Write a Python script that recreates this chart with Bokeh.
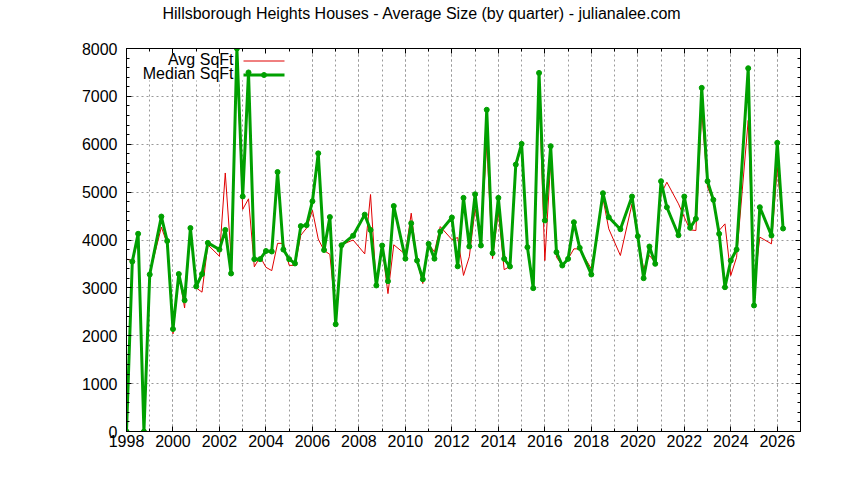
from bokeh.plotting import figure
from bokeh.models import (Range1d, SingleIntervalTicker, LinearAxis, BoxAnnotation,
                          Label, ColumnDataSource, Grid)
from bokeh.embed import file_html
from bokeh.resources import INLINE

# ---------------- data ----------------
quarters = [1998.00, 1998.25, 1998.50, 1998.75, 1999.00, 1999.50, 1999.75,
            2000.00, 2000.25, 2000.50, 2000.75, 2001.00, 2001.25, 2001.50,
            2002.00, 2002.25, 2002.50, 2002.75, 2003.00, 2003.25, 2003.50,
            2003.75, 2004.00, 2004.25, 2004.50, 2004.75, 2005.00, 2005.25,
            2005.50, 2005.75, 2006.00, 2006.25, 2006.50, 2006.75, 2007.00,
            2007.25, 2007.75, 2008.25, 2008.50, 2008.75, 2009.00, 2009.25,
            2009.50, 2010.00, 2010.25, 2010.50, 2010.75, 2011.00, 2011.25,
            2011.50, 2012.00, 2012.25, 2012.50, 2012.75, 2013.00, 2013.25,
            2013.50, 2013.75, 2014.00, 2014.25, 2014.50, 2014.75, 2015.00,
            2015.25, 2015.50, 2015.75, 2016.00, 2016.25, 2016.50, 2016.75,
            2017.00, 2017.25, 2017.50, 2018.00, 2018.50, 2018.75, 2019.25,
            2019.75, 2020.00, 2020.25, 2020.50, 2020.75, 2021.00, 2021.25,
            2021.75, 2022.00, 2022.25, 2022.50, 2022.75, 2023.00, 2023.25,
            2023.50, 2023.75, 2024.00, 2024.25, 2024.75, 2025.00, 2025.25,
            2025.75, 2026.00, 2026.25]

median_sqft = [0, 3550, 4130, 0, 3280, 4490, 3980,
               2140, 3290, 2740, 4250, 3030, 3290, 3940,
               3800, 4210, 3300, 8000, 4910, 7500, 3600,
               3600, 3770, 3760, 5420, 3800, 3600, 3510,
               4290, 4310, 4810, 5810, 3790, 4480, 2240,
               3890, 4090, 4530, 4210, 3050, 3885, 3140,
               4710, 3610, 4350, 3570, 3180, 3920, 3610,
               4175, 4470, 3450, 4880, 3865, 4955, 3885,
               6720, 3725, 4880, 3606, 3446, 5576, 6008,
               3850, 2994, 7490, 4407, 5960, 3746, 3467,
               3606, 4372, 3836, 3279, 4978, 4476, 4225,
               4908, 4080, 3202, 3864, 3502, 5228, 4685,
               4100, 4908, 4254, 4442, 7178, 5228, 4839,
               4128, 3014, 3571, 3801, 7588, 2632, 4685,
               4094, 6030, 4240]

avg_sqft = [3600, 3570, 3990, 0, 3290, 4270, 3920,
            2040, 3290, 2580, 4200, 3000, 2910, 3900,
            3660, 5400, 3650, 7800, 4640, 4860, 3440,
            3650, 3430, 3360, 3930, 3930, 3470, 3470,
            4100, 4250, 4620, 4020, 3780, 3700, 2450,
            3900, 4000, 3710, 4950, 3050, 3860, 2880,
            3900, 3700, 4560, 3570, 3090, 3920, 3750,
            4280, 4010, 4050, 3260, 3650, 4650, 4000,
            6010, 3610, 4590, 3380, 3450, 5500, 5980,
            3850, 3090, 7200, 3570, 5625, 3640, 3467,
            3606, 3815, 3815, 3398, 4870, 4233, 3676,
            4755, 4060, 3398, 3676, 3530, 4964, 5207,
            4755, 4476, 4212, 4198, 6700, 5100, 4820,
            4200, 4337, 3258, 3640, 6500, 3014, 4060,
            3920, 5520, 4240]

series_names = ["Avg SqFt", "Median SqFt"]
title_text = "Hillsborough Heights Houses - Average Size (by quarter) - julianalee.com"

# ---------------- styling ----------------
FONT = "Liberation Sans"
FS = "16px"
RED = "#e00000"
GREEN = "#00a000"
GRID = "#999999"

X0, X1 = 1998, 2027
Y0, Y1 = 0, 8000

W, H = 844, 480
FL, FR, FT, FB = 126, 800, 48, 431   # frame edges in canvas px

p = figure(width=W, height=H, output_backend="svg", toolbar_location=None,
           x_range=Range1d(X0, X1), y_range=Range1d(Y0, Y1),
           min_border_left=FL, min_border_right=W - FR,
           min_border_top=FT, min_border_bottom=H - FB,
           x_axis_type=None, y_axis_type=None)
p.background_fill_color = "white"
p.border_fill_color = "white"
p.outline_line_color = "black"
p.outline_line_width = 1

# title
p.title.text = title_text
p.title.align = "left"
p.title.offset = 36
p.title.standoff = 0
p.title.text_font = FONT
p.title.text_font_size = FS
p.title.text_font_style = "normal"
p.title.text_color = "#000000"

xt = SingleIntervalTicker(interval=2, num_minor_ticks=2)
yt = SingleIntervalTicker(interval=1000, num_minor_ticks=5)


def style_axis(ax, labels=True):
    ax.axis_line_color = "black"
    ax.major_tick_line_color = "black"
    ax.minor_tick_line_color = "black"
    ax.major_tick_in = 5
    ax.major_tick_out = 0
    ax.minor_tick_in = 3
    ax.minor_tick_out = 0
    if labels:
        ax.major_label_text_font = FONT
        ax.major_label_text_font_size = FS
        ax.major_label_text_color = "black"
    else:
        ax.major_label_text_font_size = "1px"
        ax.major_label_text_color = None
        ax.major_label_standoff = 0


xb = LinearAxis(ticker=xt)
style_axis(xb)
xb.major_label_standoff = 3
p.add_layout(xb, "below")

xa = LinearAxis(ticker=xt)
style_axis(xa, labels=False)
p.add_layout(xa, "above")

# invisible spacer axis that lifts the title towards the top of the page
spacer = LinearAxis(ticker=xt)
spacer.axis_line_color = None
spacer.major_tick_line_color = None
spacer.minor_tick_line_color = None
spacer.major_tick_in = 0
spacer.major_tick_out = 27
spacer.minor_tick_in = 0
spacer.minor_tick_out = 0
spacer.major_label_text_color = None
spacer.major_label_text_font_size = "1px"
spacer.major_label_standoff = 0
p.add_layout(spacer, "above")

yl = LinearAxis(ticker=yt)
style_axis(yl)
yl.major_label_standoff = 9
p.add_layout(yl, "left")

yr = LinearAxis(ticker=yt)
style_axis(yr, labels=False)
p.add_layout(yr, "right")

# grids (dotted, every year vertically, every 1000 horizontally)
gx = Grid(dimension=0, ticker=xt)
gx.grid_line_color = GRID
gx.grid_line_dash = "2 3"
gx.minor_grid_line_color = GRID
gx.minor_grid_line_dash = "2 3"
p.add_layout(gx)
gy = Grid(dimension=1, ticker=yt)
gy.grid_line_color = GRID
gy.grid_line_dash = "2 3"
p.add_layout(gy)


# helpers to place key items by canvas pixel
def px_to_x(px):
    return X0 + (px - FL) / (FR - FL) * (X1 - X0)


def py_to_y(py):
    return Y0 + (FB - py) / (FB - FT) * (Y1 - Y0)


# opaque key background (hides grid under the key)
key_box = BoxAnnotation(left=X0, right=px_to_x(295), top=Y1, bottom=py_to_y(80),
                        fill_color="white", fill_alpha=1.0, line_color=None,
                        level="underlay")
p.add_layout(key_box)

# data
src = ColumnDataSource(dict(x=quarters, avg=avg_sqft, med=median_sqft))
p.line("x", "avg", source=src, line_color=RED, line_width=1)
p.line("x", "med", source=src, line_color=GREEN, line_width=3)
p.scatter("x", "med", source=src, marker="circle", size=5,
          fill_color=GREEN, line_color=GREEN)

# key
row_y = [60.5, 74.5]
text_right = 233
samp_l, samp_r = 243, 284
p.line([px_to_x(samp_l), px_to_x(samp_r)], [py_to_y(row_y[0])] * 2,
       line_color=RED, line_width=1)
p.line([px_to_x(samp_l), px_to_x(samp_r)], [py_to_y(row_y[1])] * 2,
       line_color=GREEN, line_width=3)
p.scatter([px_to_x((samp_l + samp_r) / 2)], [py_to_y(row_y[1])], marker="circle",
          size=5, fill_color=GREEN, line_color=GREEN)
for name, ry in zip(series_names, row_y):
    p.add_layout(Label(x=px_to_x(text_right), y=py_to_y(ry - 2), text=name,
                       text_align="right", text_baseline="middle",
                       text_font=FONT, text_font_size=FS, text_color="black"))

open("out.html", "w").write(file_html(p, INLINE))
